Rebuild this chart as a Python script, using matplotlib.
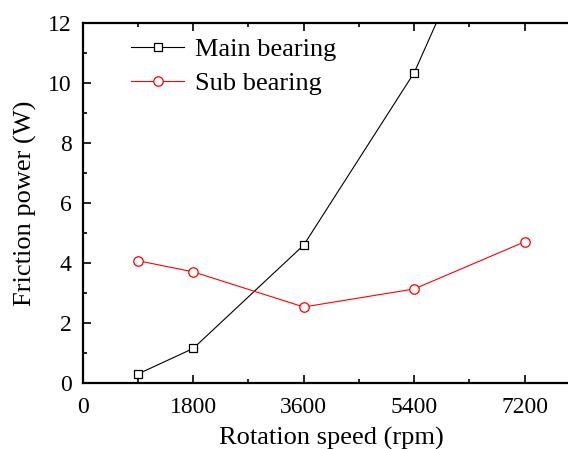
import matplotlib.pyplot as plt
from matplotlib.ticker import MultipleLocator

# Friction power vs rotation speed
speed = [900, 1800, 3600, 5400, 7200]
main_bearing = [0.31, 1.16, 4.60, 10.34, 18.6]
sub_bearing = [4.08, 3.71, 2.54, 3.14, 4.71]

plt.rcParams['font.family'] = ['Liberation Serif', 'DejaVu Serif']
plt.rcParams['mathtext.fontset'] = 'stix'

fig = plt.figure(figsize=(5.68, 4.49), dpi=100)
# axes runs a bit past the right border of the figure
ax = fig.add_axes([0.1456, 0.1463, 0.8755, 0.8031])

ax.plot(speed, main_bearing, color='black', lw=0.8, marker='s', ms=5.6,
        mfc='white', mec='black', mew=0.9, label='Main bearing')
ax.plot(speed, sub_bearing, color='red', lw=0.8, marker='o', ms=6.8,
        mfc='white', mec='red', mew=0.9, label='Sub bearing')

ax.set_xlim(0, 8100)
ax.set_ylim(0, 12)
ax.xaxis.set_major_locator(MultipleLocator(1800))
ax.xaxis.set_minor_locator(MultipleLocator(900))
ax.yaxis.set_major_locator(MultipleLocator(2))
ax.yaxis.set_minor_locator(MultipleLocator(1))

ax.tick_params(which='both', direction='in', top=True, right=False,
               labelsize=17, width=1.2)
ax.tick_params(axis='x', pad=9.5)
ax.tick_params(axis='y', pad=8)
ax.tick_params(which='major', length=6)
ax.tick_params(which='minor', length=3)
for side in ['left', 'bottom', 'top']:
    ax.spines[side].set_linewidth(1.6)
ax.spines['right'].set_visible(False)

ax.set_xlabel('Rotation speed (rpm)', fontsize=19, labelpad=7)
ax.set_ylabel('Friction power (W)', fontsize=19, labelpad=8)

ax.legend(loc='upper left', bbox_to_anchor=(0.05, 1.025), frameon=False,
          fontsize=19, handlelength=2.0, handletextpad=0.4, labelspacing=0.4)

fig.savefig('out.png', dpi=100)
